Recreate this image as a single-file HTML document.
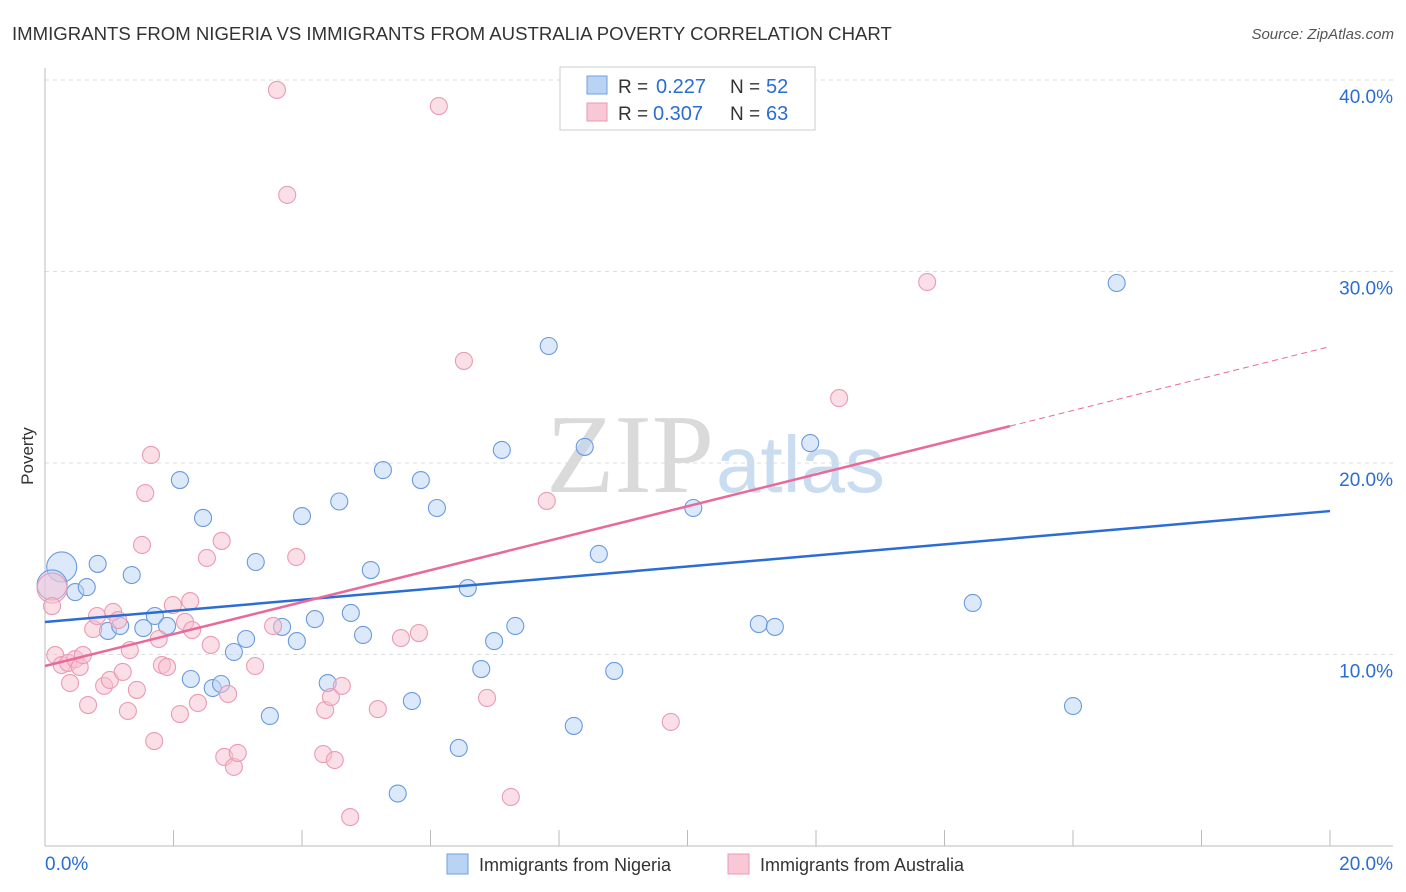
<!DOCTYPE html>
<html><head><meta charset="utf-8"><style>
body{margin:0;background:#fff;font-family:"Liberation Sans",sans-serif;}
svg{display:block}
</style></head><body>
<svg id="c" width="1406" height="892">
<text x="12" y="40" font-size="18.6" fill="#333">IMMIGRANTS FROM NIGERIA VS IMMIGRANTS FROM AUSTRALIA POVERTY CORRELATION CHART</text>
<text x="1394" y="39" font-size="15" fill="#555" font-style="italic" text-anchor="end">Source: ZipAtlas.com</text>
<text x="33" y="456" font-size="17" fill="#333" transform="rotate(-90 33 456)" text-anchor="middle">Poverty</text>
<text x="714" y="492" font-size="112" fill="#dadada" text-anchor="end" font-family="Liberation Serif">ZIP</text>
<text x="716" y="492" font-size="80" fill="#cadcf0">atlas</text>
<g id="grid"></g><g id="marks"></g>
<g>
<rect x="560" y="67" width="255" height="63" fill="#fff" stroke="#ccc"/>
<rect x="587" y="76" width="20" height="18" fill="#b9d3f5" stroke="#6f9fe0"/>
<rect x="587" y="103" width="20" height="18" fill="#f9c8d7" stroke="#ec98b4"/>
<text x="618" y="93" font-size="19" fill="#333">R =</text>
<text x="656" y="93" font-size="20" fill="#2a6dd4">0.227</text>
<text x="730" y="93" font-size="19" fill="#333">N =</text>
<text x="766" y="93" font-size="20" fill="#2a6dd4">52</text>
<text x="618" y="120" font-size="19" fill="#333">R =</text>
<text x="653" y="120" font-size="20" fill="#2a6dd4">0.307</text>
<text x="730" y="120" font-size="19" fill="#333">N =</text>
<text x="766" y="120" font-size="20" fill="#2a6dd4">63</text>
</g>
<g>
<rect x="447" y="854" width="21" height="20" fill="#b9d3f5" stroke="#6f9fe0"/>
<text x="479" y="871" font-size="18" fill="#333">Immigrants from Nigeria</text>
<rect x="728" y="854" width="21" height="20" fill="#f9c8d7" stroke="#ec98b4"/>
<text x="760" y="871" font-size="18" fill="#333">Immigrants from Australia</text>
</g>
</svg>
<script>
const blueX=[0.26,0.11,0.47,0.65,0.82,1.35,0.98,1.17,1.53,1.71,1.90,2.10,2.46,2.27,2.61,2.74,2.94,3.13,3.28,3.50,3.69,3.92,4.00,4.20,4.40,4.58,4.76,4.95,5.07,5.26,5.49,5.71,5.85,6.10,6.44,6.58,6.79,6.99,7.11,7.32,7.84,8.23,8.40,8.62,8.86,10.09,11.11,11.36,11.91,14.44,16.00,16.68];
const blueY=[14.57,13.63,13.26,13.52,14.73,14.15,11.23,11.49,11.38,12.01,11.49,19.11,17.13,8.72,8.25,8.46,10.13,10.81,14.83,6.79,11.44,10.70,17.23,11.85,8.51,17.99,12.17,11.02,14.41,19.63,2.74,7.57,19.11,17.65,5.12,13.47,9.24,10.70,20.68,11.49,26.11,6.27,20.84,15.25,9.14,17.65,11.59,11.44,21.04,12.69,7.31,29.40];
const blueBig=[0,1];
const pinkX=[0.11,0.11,0.16,0.26,0.36,0.39,0.47,0.54,0.59,0.67,0.75,0.81,0.92,1.01,1.06,1.14,1.21,1.29,1.32,1.43,1.51,1.56,1.65,1.70,1.77,1.82,1.90,1.99,2.10,2.18,2.26,2.29,2.38,2.52,2.58,2.75,2.79,2.85,2.94,3.00,3.27,3.55,3.61,3.77,3.91,4.33,4.36,4.45,4.51,4.62,4.75,5.18,5.54,5.82,6.13,6.52,6.88,7.25,7.81,9.74,12.36,13.73];
const pinkY=[13.47,12.53,9.97,9.45,9.56,8.51,9.76,9.35,9.97,7.36,11.33,12.01,8.36,8.67,12.22,11.80,9.09,7.05,10.23,8.15,15.72,18.43,20.42,5.48,10.81,9.45,9.35,12.58,6.89,11.70,12.79,11.28,7.47,15.04,10.50,15.93,4.65,7.94,4.13,4.86,9.40,11.49,39.48,34.00,15.09,4.80,7.10,7.78,4.49,8.36,1.51,7.15,10.86,11.12,38.64,25.33,7.73,2.56,18.02,6.48,23.39,29.45];
const pinkBig=[0];
const blueTrend=[11.70,17.49];
const pinkTrend=[9.40,26.08];
const pinkSolidEnd=15.02;
const yTicks=[10,20,30,40];
const yTickLabels=["10.0%","20.0%","30.0%","40.0%"];
const xTicks=[0,2,4,6,8,10,12,14,16,18,20];

const NS="http://www.w3.org/2000/svg";
const X=v=>45+v*64.25, Y=v=>846-v*19.15;
function mk(t,a,p){const e=document.createElementNS(NS,t);for(const k in a)e.setAttribute(k,a[k]);p.appendChild(e);return e;}
const g=document.getElementById('grid'), m=document.getElementById('marks');
yTicks.forEach((t,i)=>{
  const l=mk('line',{x1:45,x2:1393,y1:Y(t),y2:Y(t),stroke:'#ddd','stroke-dasharray':'4 4'},g);
  
  
  const tx=mk('text',{x:1393,y:Y(t)+23,'font-size':19,fill:'#2a6dd4','text-anchor':'end'},g);
  tx.textContent=yTickLabels[i];
  
  
});
const ax=mk('line',{x1:45,x2:45,y1:68,y2:846,stroke:'#bbb'},g);


const bx=mk('line',{x1:45,x2:1393,y1:846,y2:846,stroke:'#bbb'},g);


xTicks.forEach(t=>{
  const l=mk('line',{x1:X(t),x2:X(t),y1:830,y2:846,stroke:'#bbb'},g);
  
  
});
const xl0=mk('text',{x:45,y:870,'font-size':19,fill:'#2a6dd4'},g);xl0.textContent='0.0%';


const xl1=mk('text',{x:1393,y:870,'font-size':19,fill:'#2a6dd4','text-anchor':'end'},g);xl1.textContent='20.0%';


function pts(xs,ys,big,fill,stroke,name){
  xs.forEach((v,i)=>{
    const c=mk('circle',{cx:X(v),cy:Y(ys[i]),r:big.includes(i)?15:8.5,fill:fill,'fill-opacity':0.5,stroke:stroke,'stroke-width':1.1},m);
    
    
  });
}
pts(blueX,blueY,blueBig,'#b9d3f5','#6a9ade','nigeria-point');
pts(pinkX,pinkY,pinkBig,'#f7bfd0','#eb9ab5','australia-point');
const bl=mk('line',{x1:X(0),y1:Y(blueTrend[0]),x2:X(20),y2:Y(blueTrend[1]),stroke:'#2a6dd4','stroke-width':2.5},m);


const pe=pinkTrend[0]+(pinkTrend[1]-pinkTrend[0])*pinkSolidEnd/20;
const pl=mk('line',{x1:X(0),y1:Y(pinkTrend[0]),x2:X(pinkSolidEnd),y2:Y(pe),stroke:'#e8699a','stroke-width':2.5},m);


const pd=mk('line',{x1:X(pinkSolidEnd),y1:Y(pe),x2:X(20),y2:Y(pinkTrend[1]),stroke:'#e8699a','stroke-width':1,'stroke-dasharray':'6 4'},m);


</script>
</body></html>
